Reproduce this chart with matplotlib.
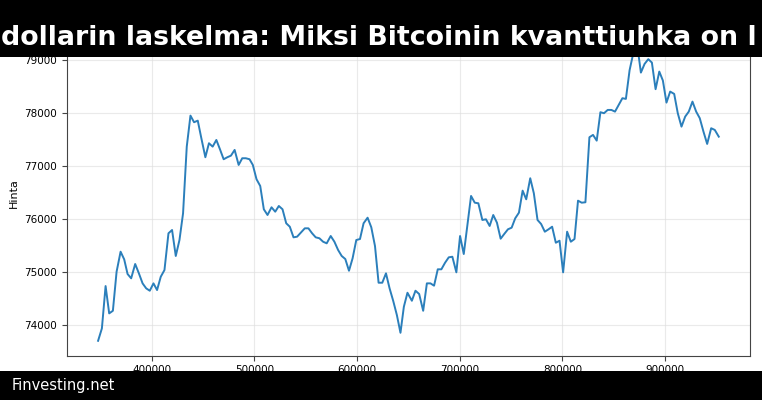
import matplotlib
matplotlib.use("Agg")
import matplotlib.pyplot as plt
from matplotlib.patches import Rectangle
from matplotlib.ticker import ScalarFormatter

# x values
blocks = [348000, 351700, 355300, 358800, 362400, 366000, 369900, 373400, 376700, 380200,
          384100, 387700, 391300, 394800, 398300, 401900, 405400, 409000, 412600, 416500,
          420000, 423600, 427200, 430700, 434300, 437900, 441400, 445000, 448500, 452400,
          455900, 459500, 463100, 466600, 470200, 473800, 477300, 480900, 484800, 488300,
          491800, 495400, 498600, 502200, 505800, 509300, 512900, 516800, 520400, 523900,
          527500, 531100, 534600, 538200, 541700, 545300, 549200, 552700, 556300, 559800,
          563400, 567000, 570500, 574400, 578000, 581600, 585100, 588600, 592200, 595700,
          599300, 602900, 606400, 610300, 613900, 617500, 621000, 624600, 628200, 631700,
          635200, 638800, 642300, 645600, 649100, 653400, 656900, 660500, 664400, 668000,
          671500, 675000, 678600, 682100, 685700, 689300, 692800, 696700, 700300, 703900,
          707400, 711000, 714600, 718100, 722000, 725500, 729100, 732600, 736200, 739800,
          743300, 746900, 750500, 754000, 757600, 761200, 764700, 768600, 772100, 775700,
          779200, 782800, 786400, 789900, 793500, 797100, 800600, 804500, 808100, 811700,
          815100, 818700, 822300, 826200, 829700, 833300, 836900, 840400, 844000, 847600,
          851100, 854700, 858300, 861700, 865300, 869100, 872700, 876300, 879900, 883500,
          887000, 890600, 894200, 897700, 901200, 904800, 908700, 912200, 915800, 919400,
          922900, 926500, 930100, 933600, 937200, 940800, 944700, 948200, 952100]

prices = [73709, 73943, 74741, 74226, 74275, 75011, 75389, 75245, 74968, 74887,
          75157, 74981, 74792, 74698, 74653, 74792, 74666, 74917, 75043, 75736,
          75798, 75308, 75609, 76113, 77370, 77955, 77830, 77860, 77528, 77170,
          77434, 77370, 77496, 77321, 77132, 77170, 77200, 77308, 77025, 77151,
          77151, 77132, 77025, 76755, 76628, 76189, 76081, 76226, 76143, 76251,
          76189, 75925, 75860, 75660, 75672, 75747, 75830, 75830, 75736, 75660,
          75642, 75577, 75547, 75685, 75577, 75421, 75308, 75251, 75030, 75264,
          75609, 75628, 75925, 76030, 75849, 75496, 74804, 74804, 74981, 74698,
          74464, 74194, 73860, 74351, 74615, 74464, 74653, 74591, 74275, 74792,
          74792, 74748, 75057, 75057, 75181, 75283, 75294, 75000, 75685, 75345,
          75892, 76440, 76313, 76302, 75987, 76000, 75874, 76081, 75936, 75634,
          75723, 75811, 75842, 76019, 76125, 76540, 76377, 76774, 76491, 75987,
          75911, 75766, 75811, 75860, 75558, 75596, 75000, 75766, 75577, 75628,
          76351, 76313, 76321, 77547, 77591, 77483, 78019, 78000, 78062, 78062,
          78030, 78157, 78283, 78270, 78811, 79150, 79290, 78766, 78930, 79019,
          78955, 78453, 78785, 78616, 78200, 78408, 78364, 78000, 77747, 77936,
          78030, 78219, 78030, 77906, 77653, 77421, 77717, 77685, 77558]

title = "dollarin laskelma: Miksi Bitcoinin kvanttiuhka on l"
footer = "Finvesting.net"

fig = plt.figure(figsize=(7.62, 4.0), dpi=100)
ax = fig.add_axes([0.088, 0.111, 0.896, 0.814])

ax.plot(blocks, prices, color="#2b7fbb", linewidth=1.4)
ax.set_ylabel("Hinta", fontsize=8)
ax.grid(True, color="#dddddd", linewidth=0.8, alpha=0.6)
ax.tick_params(labelsize=7.5, color="#444444", length=3.5)
for side in ax.spines.values():
    side.set_color("#444444")

fmt = ScalarFormatter(useOffset=False)
fmt.set_scientific(False)
ax.xaxis.set_major_formatter(fmt)
fmt2 = ScalarFormatter(useOffset=False)
fmt2.set_scientific(False)
ax.yaxis.set_major_formatter(fmt2)

# black bars on top and bottom
fig.patches.append(Rectangle((0, 1 - 57 / 400), 1, 57 / 400, transform=fig.transFigure,
                             facecolor="black", zorder=10))
fig.patches.append(Rectangle((0, 0), 1, 29 / 400, transform=fig.transFigure,
                             facecolor="black", zorder=10))
fig.text(0.001, 1 - 45 / 400, title, color="white", fontsize=19.3, fontweight="bold",
         ha="left", va="baseline", zorder=11)
fig.text(12 / 762, 14.5 / 400, footer, color="white", fontsize=10.5,
         ha="left", va="center", zorder=11)

fig.savefig("out.png", dpi=100)
